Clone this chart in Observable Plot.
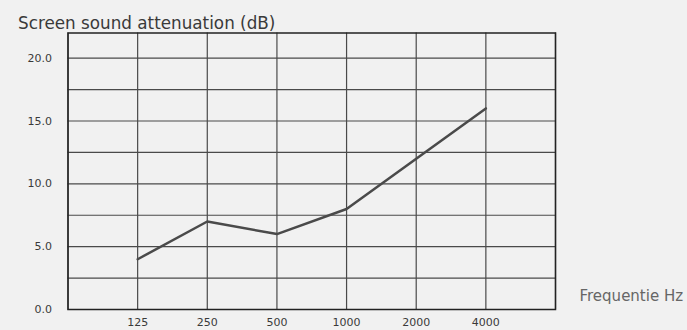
<!DOCTYPE html>
<html>
<head>
<meta charset="utf-8">
<script src="https://cdn.jsdelivr.net/npm/d3@7"></script>
<script src="https://cdn.jsdelivr.net/npm/@observablehq/plot@0.6"></script>
<style>
  html, body { margin: 0; padding: 0; background: #f1f1f1; }
  #chart svg { display: block; }
</style>
</head>
<body>
<div id="chart"></div>
<script>
const frequencies = ["125", "250", "500", "1000", "2000", "4000"];
const attenuation = [4, 7, 6, 8, 12, 16];
const yTickValues = [0, 5, 10, 15, 20];
const yGridValues = [0, 2.5, 5, 7.5, 10, 12.5, 15, 17.5, 20];
const titleText = "Screen sound attenuation (dB)";
const xAxisLabel = "Frequentie Hz";

const data = frequencies.map((f, i) => ({slot: i + 1, freq: f, value: attenuation[i]}));
const slots = d3.range(0, frequencies.length + 2);

const chart = Plot.plot({
  width: 687,
  height: 330,
  marginLeft: 67.5,
  marginTop: 32.5,
  marginRight: 132,
  marginBottom: 21,
  style: {background: "#f1f1f1", fontFamily: "'DejaVu Sans', sans-serif", color: "#333"},
  x: {domain: [0, frequencies.length + 1]},
  y: {domain: [0, 22]},
  marks: [
    Plot.ruleX(slots, {x: d => d, stroke: "#4a4a4a", strokeWidth: 1.2}),
    Plot.ruleY(yGridValues, {y: d => d, stroke: "#4a4a4a", strokeWidth: 1.2}),
    Plot.frame({stroke: "#222", strokeWidth: 1.5}),
    Plot.axisX({ticks: data.map(d => d.slot), tickFormat: i => frequencies[i - 1], tickSize: 0, tickPadding: 9, fontSize: 11, label: null, fill: "#3a3a3a"}),
    Plot.axisY({ticks: yTickValues, tickFormat: d => d.toFixed(1), tickSize: 0, tickPadding: 16, fontSize: 11, label: null, fill: "#3a3a3a"}),
    Plot.line(data, {x: "slot", y: "value", stroke: "#4a4a4a", strokeWidth: 2.5}),
    Plot.text([titleText], {frameAnchor: "top-left", dx: -50, dy: -16, text: d => d, textAnchor: "start", fontSize: 16.8, fill: "#3a3a3a"}),
    Plot.text([xAxisLabel], {frameAnchor: "bottom-right", dx: 24, dy: -9, text: d => d, textAnchor: "start", fontSize: 15, fill: "#666"})
  ]
});
document.getElementById("chart").appendChild(chart);
</script>
</body>
</html>
